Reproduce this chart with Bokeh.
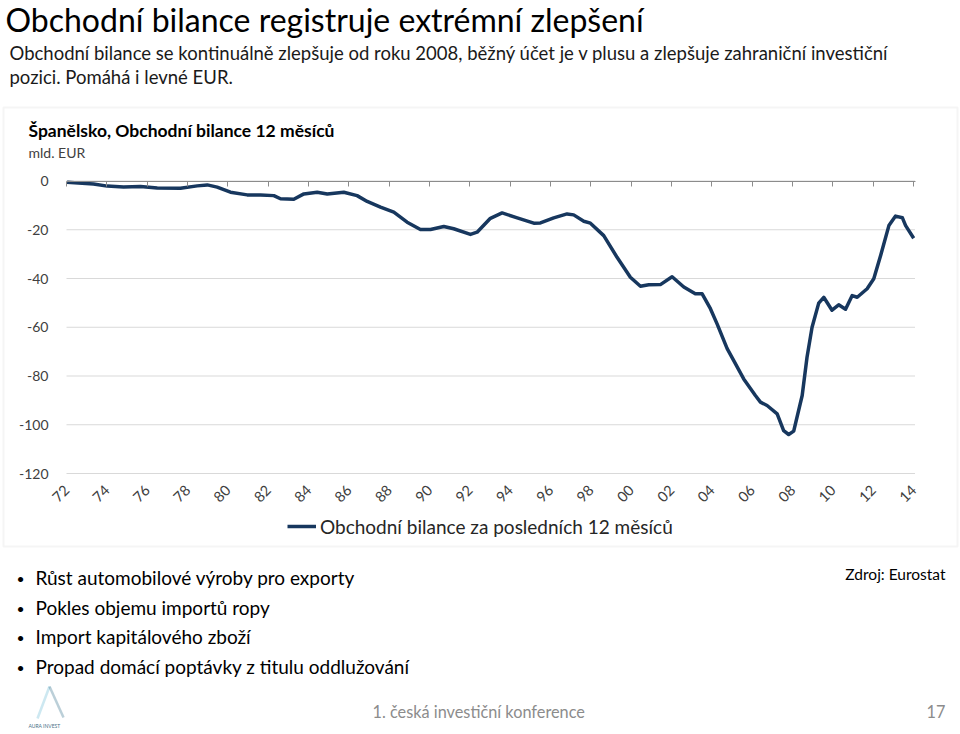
import math
from bokeh.plotting import figure
from bokeh.models import (Range1d, LinearAxis, FixedTicker, Label, BoxAnnotation,
                          PolyAnnotation, Legend, LegendItem)
from bokeh.embed import file_html
from bokeh.resources import INLINE

# ---------------- data ----------------
years = [1972.03, 1973.34, 1974.02, 1974.83, 1975.67, 1976.50, 1977.65, 1978.48, 1978.98,
         1979.47, 1980.13, 1980.96, 1981.62, 1982.28, 1982.61, 1983.27, 1983.77, 1984.43,
         1984.93, 1985.75, 1986.41, 1986.91, 1987.57, 1988.23, 1988.89, 1989.55, 1990.05,
         1990.71, 1991.20, 1992.03, 1992.36, 1993.02, 1993.60, 1994.35, 1995.17, 1995.50,
         1996.16, 1996.82, 1997.15, 1997.65, 1997.98, 1998.64, 1999.30, 1999.96, 2000.46,
         2000.87, 2001.45, 2002.03, 2002.61, 2003.18, 2003.52, 2003.93, 2004.26, 2004.76,
         2005.08, 2005.58, 2006.16, 2006.41, 2006.74, 2007.24, 2007.56, 2007.81, 2008.06,
         2008.48, 2008.72, 2008.97, 2009.30, 2009.55, 2009.96, 2010.29, 2010.63, 2010.96,
         2011.21, 2011.70, 2012.03, 2012.37, 2012.78, 2013.11, 2013.45, 2013.61, 2014.01]
balance = [-0.5, -1.2, -2.1, -2.5, -2.3, -2.9, -3.0, -2.0, -1.6,
           -2.5, -4.6, -5.7, -5.7, -6.0, -7.3, -7.5, -5.3, -4.6,
           -5.3, -4.6, -6.0, -8.4, -10.7, -12.8, -16.9, -19.9, -19.9,
           -18.7, -19.6, -21.9, -21.0, -15.3, -13.1, -15.1, -17.3, -17.2,
           -15.1, -13.5, -13.9, -16.5, -17.3, -22.4, -31.3, -39.5, -43.2,
           -42.6, -42.5, -39.3, -43.5, -46.3, -46.3, -52.4, -58.6, -68.8,
           -73.6, -81.2, -88.0, -90.7, -92.1, -95.5, -102.4, -104.0, -102.6,
           -88.0, -72.3, -60.0, -50.1, -47.7, -53.0, -50.8, -52.6, -47.0,
           -47.7, -44.2, -40.1, -30.6, -18.3, -14.4, -15.1, -18.3, -23.5]
tick_years = list(range(1972, 2015, 2))
tick_labels = ["72", "74", "76", "78", "80", "82", "84", "86", "88", "90", "92",
               "94", "96", "98", "00", "02", "04", "06", "08", "10", "12", "14"]
y_ticks = [0, -20, -40, -60, -80, -100, -120]
y_labels = ["0", "-20", "-40", "-60", "-80", "-100", "-120"]

title = "Obchodní bilance registruje extrémní zlepšení"
subtitle1 = "Obchodní bilance se kontinuálně zlepšuje od roku 2008, běžný účet je v plusu a zlepšuje zahraniční investiční"
subtitle2 = "pozici. Pomáhá i levné EUR."
chart_title = "Španělsko, Obchodní bilance 12 měsíců"
unit_label = "mld. EUR"
series_name = "Obchodní bilance za posledních 12 měsíců"
bullets = ["Růst automobilové výroby pro exporty",
           "Pokles objemu importů ropy",
           "Import kapitálového zboží",
           "Propad domácí poptávky z titulu oddlužování"]
source = "Zdroj: Eurostat"
footer = "1. česká investiční konference"
page_no = "17"

# ---------------- styling / geometry ----------------
FONT = "Lato"
NAVY = "#17375e"
W, H = 960, 734
PX_X0, PX_X1 = 66, 913          # pixel x of first / last tick
PX_Y0, PX_Y1 = 180.5, 473       # pixel y of value 0 / -120
X_A, X_B = tick_years[0], tick_years[-1]
Y_A, Y_B = y_ticks[0], y_ticks[-1]
sx = (PX_X1 - PX_X0) / (X_B - X_A)
sy = (PX_Y1 - PX_Y0) / (Y_A - Y_B)
x_range = Range1d(X_A - PX_X0 / sx, X_A + (W - PX_X0) / sx)
y_range = Range1d(Y_A - (H - PX_Y0) / sy, Y_A + PX_Y0 / sy)
AX_END = X_B + 1.5 / sx

p = figure(width=W, height=H, output_backend="svg", toolbar_location=None,
           x_range=x_range, y_range=y_range,
           x_axis_type=None, y_axis_type=None, title=None,
           min_border=0, outline_line_color=None,
           background_fill_color="white", border_fill_color="white")

# frame box around the chart
p.add_layout(BoxAnnotation(left=3, right=957, top=H - 107, bottom=H - 546,
                           left_units="screen", right_units="screen",
                           top_units="screen", bottom_units="screen",
                           fill_alpha=0, line_color="#dedede", line_width=2,
                           level="underlay"))

# horizontal gridlines (bounded to the plot area)
p.segment(x0=[X_A] * len(y_ticks), x1=[AX_END] * len(y_ticks), y0=y_ticks, y1=y_ticks,
          line_color="#d9d9d9", line_width=1, level="underlay")

yax = LinearAxis(ticker=FixedTicker(ticks=y_ticks), fixed_location=X_A,
                 axis_line_color=None, major_tick_line_color=None,
                 minor_tick_line_color=None, major_label_standoff=12,
                 major_label_text_font=FONT, major_label_text_font_size="14px",
                 major_label_text_color="#404040",
                 major_label_overrides={float(v): s for v, s in zip(y_ticks, y_labels)})
p.add_layout(yax, "left")

xticker = FixedTicker(ticks=tick_years)
xax = LinearAxis(ticker=xticker, fixed_location=Y_B, axis_line_color=None,
                 major_tick_line_color=None, minor_tick_line_color=None,
                 major_label_standoff=8, major_label_orientation=math.pi / 4,
                 major_label_text_font=FONT, major_label_text_font_size="14.5px",
                 major_label_text_color="#404040",
                 major_label_overrides={float(v): s for v, s in zip(tick_years, tick_labels)})
p.add_layout(xax, "below")

x0ax = LinearAxis(ticker=xticker, fixed_location=Y_A, bounds=(X_A, AX_END),
                  axis_line_color="#8c8c8c", axis_line_width=1,
                  major_tick_line_color="#8c8c8c", major_tick_in=0, major_tick_out=5,
                  minor_tick_line_color=None,
                  major_label_overrides={float(v): "" for v in tick_years})
p.add_layout(x0ax, "below")

r = p.line(years, balance, line_width=3.5, line_color=NAVY, line_join="round")

legend = Legend(items=[LegendItem(label=series_name, renderers=[r])],
                location=(287, H - 538), padding=0, margin=0, spacing=0,
                glyph_width=29, glyph_height=24, label_standoff=4,
                label_text_font=FONT, label_text_font_size="19px",
                label_text_color="#262626", border_line_color=None,
                background_fill_alpha=0)
p.add_layout(legend, "center")

# ---------------- slide texts ----------------
def lab(px, py, text, size, color="#000000", style="normal", align="left"):
    # py is the wanted baseline; correct for how the renderer places it
    adj = py - 0.43 * size
    p.add_layout(Label(x=px, y=H - adj, x_units="screen", y_units="screen",
                       text=text, text_font=FONT, text_font_size=f"{size}px",
                       text_font_style=style, text_color=color,
                       text_align=align, text_baseline="alphabetic"))

lab(5, 32.5, title, 32)
lab(9, 60, subtitle1, 18.5, "#1a1a1a")
lab(9, 84, subtitle2, 18.5, "#1a1a1a")
lab(28, 138, chart_title, 17.5, "#000000", "bold")
lab(28, 158, unit_label, 14, "#404040")

for i, b in enumerate(bullets):
    base = 585 + i * 29.7
    lab(16, base - 1, "•", 14, "#000000")
    lab(35, base, b, 19, "#000000")

lab(945, 580, source, 15.5, "#000000", align="right")
lab(372, 718, footer, 16.3, "#8c8c8c")
lab(945, 718, page_no, 16.3, "#8c8c8c", align="right")

# logo
p.add_layout(PolyAnnotation(xs=[49, 37], ys=[H - 686, H - 718],
                            xs_units="screen", ys_units="screen",
                            fill_alpha=0, line_color="#5ab4d2", line_width=2.5))
p.add_layout(PolyAnnotation(xs=[49, 63], ys=[H - 686, H - 717],
                            xs_units="screen", ys_units="screen",
                            fill_alpha=0, line_color="#1f5f7f", line_width=2.5))
lab(28, 728, "AURA INVEST", 5, "#4a6f86")

open("out.html", "w").write(file_html(p, INLINE))
